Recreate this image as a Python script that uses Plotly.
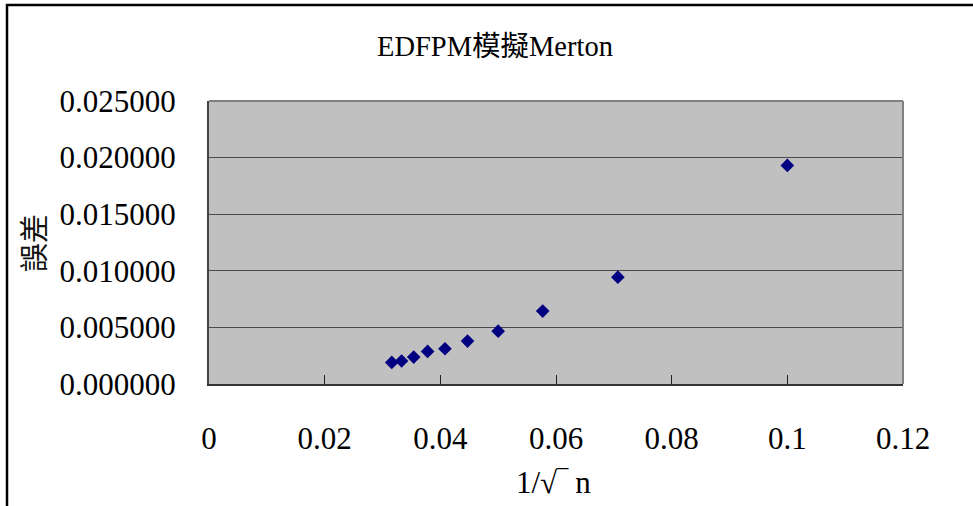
import plotly.graph_objects as go

# data
x_vals = [0.1, 0.0707, 0.0577, 0.05, 0.0447, 0.0408, 0.0378, 0.0354, 0.0333, 0.0316]
errors = [0.01931, 0.00944, 0.00644, 0.00467, 0.00379, 0.00311, 0.00288, 0.00238, 0.00203, 0.00191]
x_ticks = [0, 0.02, 0.04, 0.06, 0.08, 0.1, 0.12]
x_tick_text = ["0", "0.02", "0.04", "0.06", "0.08", "0.1", "0.12"]
y_ticks = [0, 0.005, 0.01, 0.015, 0.02, 0.025]
y_tick_text = ["0.000000", "0.005000", "0.010000", "0.015000", "0.020000", "0.025000"]
title_text = "EDFPM模擬Merton"
x_title = "1/√‾ n"
y_title = "誤差"

W, H = 973, 506
L, R, T, B = 209, 903, 101, 384
FONT = "Liberation Serif, Noto Sans CJK TC, serif"

def px_x(p):
    return (p - L) / (R - L)

def px_y(p):
    return (B - p) / (B - T)

fig = go.Figure()
fig.add_trace(go.Scatter(
    x=x_vals, y=errors, mode="markers",
    marker=dict(symbol="diamond", size=10.5, color="#000080", line=dict(width=0)),
    showlegend=False, cliponaxis=False,
))

fig.update_layout(
    width=W, height=H, autosize=False,
    margin=dict(l=L, r=W - R, t=T, b=H - B, pad=0),
    paper_bgcolor="white", plot_bgcolor="#C0C0C0",
    font=dict(family=FONT, color="black"),
    xaxis=dict(
        range=[0, 0.12], tickvals=x_ticks, ticktext=x_tick_text,
        showgrid=False, zeroline=False, showline=True, linecolor="#333333", linewidth=2,
        ticks="inside", ticklen=9, tickwidth=1, tickcolor="#222222",
        tickfont=dict(family=FONT, size=31, color="black"), ticklabelstandoff=26,
    ),
    yaxis=dict(
        range=[0, 0.025], tickvals=y_ticks, ticktext=y_tick_text,
        showgrid=True, gridcolor="#4a4a4a", gridwidth=1,
        zeroline=False, showline=True, linecolor="#444444", linewidth=2,
        ticks="", tickfont=dict(family=FONT, size=31, color="black"), ticklabelstandoff=25,
    ),
    shapes=[
        dict(type="line", xref="paper", yref="paper", x0=0, x1=1, y0=1, y1=1,
             line=dict(color="#808080", width=2)),
        dict(type="line", xref="paper", yref="paper", x0=1, x1=1, y0=0, y1=1,
             line=dict(color="#808080", width=2)),
        dict(type="line", xref="paper", yref="paper", x0=px_x(7), x1=px_x(7), y0=px_y(4), y1=px_y(H + 5),
             line=dict(color="black", width=2.5)),
        dict(type="line", xref="paper", yref="paper", x0=px_x(6), x1=px_x(W + 5), y0=px_y(5), y1=px_y(5),
             line=dict(color="black", width=2.5)),
    ],
    annotations=[
        dict(text=title_text, xref="paper", yref="paper", x=px_x(495), y=px_y(47),
             xanchor="center", yanchor="middle", showarrow=False,
             font=dict(family=FONT, size=28.5, color="black")),
        dict(text=x_title, xref="paper", yref="paper", x=px_x(553), y=px_y(482),
             xanchor="center", yanchor="middle", showarrow=False,
             font=dict(family=FONT, size=31, color="black")),
        dict(text=y_title, xref="paper", yref="paper", x=px_x(32), y=px_y(243),
             xanchor="center", yanchor="middle", showarrow=False, textangle=-90,
             font=dict(family="Noto Sans CJK TC, sans-serif", size=29, color="#111111")),
    ],
)

fig.write_html("out.html")
